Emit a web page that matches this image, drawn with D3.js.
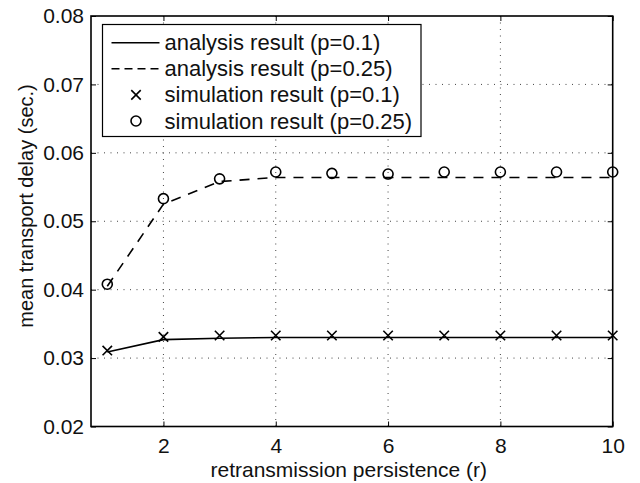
<html>

<head>
    <script src="https://d3js.org/d3.v7.min.js"></script>
    <style>
        body { margin: 0; background: #fff; }
        text { font-family: "Liberation Sans", Arial, sans-serif; fill: #111; }
    </style>
</head>

<body>
    <svg id="chartArea" width="640" height="483"></svg>
    <script>
        // retransmission persistence r and the four series
        const persistence = [1, 2, 3, 4, 5, 6, 7, 8, 9, 10];
        const analysisP01 = [0.0309, 0.0327, 0.0329, 0.0330, 0.0330, 0.0330, 0.0330, 0.0330, 0.0330, 0.0330];
        const analysisP025 = [0.0405, 0.0525, 0.0558, 0.0564, 0.0564, 0.0564, 0.0564, 0.0564, 0.0564, 0.0564];
        const simP01 = [0.0311, 0.0331, 0.0333, 0.0333, 0.0333, 0.0333, 0.0333, 0.0333, 0.0333, 0.0333];
        const simP025 = [0.0408, 0.0533, 0.0562, 0.0572, 0.0570, 0.0569, 0.0572, 0.0572, 0.0572, 0.0572];
        const xTicks = [2, 4, 6, 8, 10];
        const yTicks = [0.02, 0.03, 0.04, 0.05, 0.06, 0.07, 0.08];
        const legendLabels = ["analysis result (p=0.1)", "analysis result (p=0.25)",
            "simulation result (p=0.1)", "simulation result (p=0.25)"];

        const svg = d3.select("#chartArea");
        const margins = { top: 16, right: 27.3, bottom: 56.5, left: 91 };
        const width = +svg.attr("width");
        const height = +svg.attr("height");
        const chartWidth = width - margins.left - margins.right;
        const chartHeight = height - margins.top - margins.bottom;

        const xScale = d3.scaleLinear().domain([0.71, 10]).range([0, chartWidth]);
        const yScale = d3.scaleLinear().domain([0.02, 0.08]).range([chartHeight, 0]);

        const chartArea = svg.append("g")
            .attr("transform", `translate(${margins.left},${margins.top})`);

        // dotted grid
        chartArea.selectAll("line.vgrid").data(xTicks.filter(d => d < 10))
            .join("line").attr("class", "vgrid")
            .attr("x1", d => xScale(d)).attr("x2", d => xScale(d))
            .attr("y1", 0).attr("y2", chartHeight)
            .attr("stroke", "#444").attr("stroke-width", 1).attr("stroke-dasharray", "1,5.5");
        chartArea.selectAll("line.hgrid").data(yTicks.filter(d => d > 0.02 && d < 0.08))
            .join("line").attr("class", "hgrid")
            .attr("x1", 0).attr("x2", chartWidth)
            .attr("y1", d => yScale(d)).attr("y2", d => yScale(d))
            .attr("stroke", "#444").attr("stroke-width", 1).attr("stroke-dasharray", "1,5.5");

        // axes with inward ticks, MATLAB style box
        const xAxis = chartArea.append("g").attr("transform", `translate(0,${chartHeight})`)
            .call(d3.axisBottom(xScale).tickValues(xTicks).tickSize(-5).tickPadding(12).tickFormat(d3.format("d")));
        const yAxis = chartArea.append("g")
            .call(d3.axisLeft(yScale).tickValues(yTicks).tickSize(-5).tickPadding(7).tickFormat(d3.format(".2f")));
        chartArea.append("g")
            .call(d3.axisTop(xScale).tickValues(xTicks).tickSize(-5).tickFormat(""));
        chartArea.append("g").attr("transform", `translate(${chartWidth},0)`)
            .call(d3.axisRight(yScale).tickValues(yTicks).tickSize(-5).tickFormat(""));
        chartArea.selectAll(".domain").remove();
        chartArea.selectAll(".tick line").attr("stroke", "#000").attr("stroke-width", 1);
        [xAxis, yAxis].forEach(a => a.selectAll("text")
            .style("font-family", "'Liberation Sans', Arial, sans-serif")
            .attr("font-size", "21px").attr("fill", "#111"));

        chartArea.append("rect")
            .attr("x", 0).attr("y", 0).attr("width", chartWidth).attr("height", chartHeight)
            .attr("fill", "none").attr("stroke", "#000").attr("stroke-width", 1.6);

        // analysis lines
        const line = d3.line().x((d, i) => xScale(persistence[i])).y(d => yScale(d));
        chartArea.append("path").datum(analysisP01)
            .attr("d", line).attr("fill", "none").attr("stroke", "#000").attr("stroke-width", 1.6);
        chartArea.append("path").datum(analysisP025)
            .attr("d", line).attr("fill", "none").attr("stroke", "#000").attr("stroke-width", 1.6)
            .attr("stroke-dasharray", "10,8");

        // simulation markers
        const cross = d3.symbol().type(d3.symbolX).size(60);
        chartArea.selectAll("path.cross").data(simP01)
            .join("path").attr("class", "cross")
            .attr("d", cross)
            .attr("transform", (d, i) => `translate(${xScale(persistence[i])},${yScale(d)})`)
            .attr("fill", "none").attr("stroke", "#000").attr("stroke-width", 1.6);
        chartArea.selectAll("circle.sim").data(simP025)
            .join("circle").attr("class", "sim")
            .attr("cx", (d, i) => xScale(persistence[i])).attr("cy", d => yScale(d))
            .attr("r", 5).attr("fill", "none").attr("stroke", "#000").attr("stroke-width", 1.6);

        // axis labels
        svg.append("text")
            .attr("x", margins.left + xScale(5.3)).attr("y", 476.5)
            .attr("text-anchor", "middle").attr("font-size", "21px")
            .text("retransmission persistence (r)");
        svg.append("text")
            .attr("transform", "translate(33,206) rotate(-90)")
            .attr("text-anchor", "middle").attr("font-size", "20px")
            .text("mean transport delay (sec.)");

        // legend
        const legend = svg.append("g").attr("transform", "translate(102.5,24.5)");
        legend.append("rect")
            .attr("width", 318.5).attr("height", 112)
            .attr("fill", "#fff").attr("stroke", "#000").attr("stroke-width", 1.2);
        const rowY = d3.scaleLinear().domain([0, 3]).range([18.2, 96.5]);
        legendLabels.forEach((label, i) => {
            const y = rowY(i);
            if (i < 2) {
                legend.append("line")
                    .attr("x1", 9).attr("x2", 57).attr("y1", y).attr("y2", y)
                    .attr("stroke", "#000").attr("stroke-width", 1.6)
                    .attr("stroke-dasharray", i === 1 ? "8,5" : null);
            } else if (i === 2) {
                legend.append("path").attr("d", cross)
                    .attr("transform", `translate(33.5,${y})`)
                    .attr("fill", "none").attr("stroke", "#000").attr("stroke-width", 1.6);
            } else {
                legend.append("circle").attr("cx", 33.5).attr("cy", y).attr("r", 5)
                    .attr("fill", "none").attr("stroke", "#000").attr("stroke-width", 1.6);
            }
            legend.append("text")
                .attr("x", 62).attr("y", y + 7.5)
                .attr("font-size", "22px")
                .text(label);
        });
    </script>
</body>

</html>
